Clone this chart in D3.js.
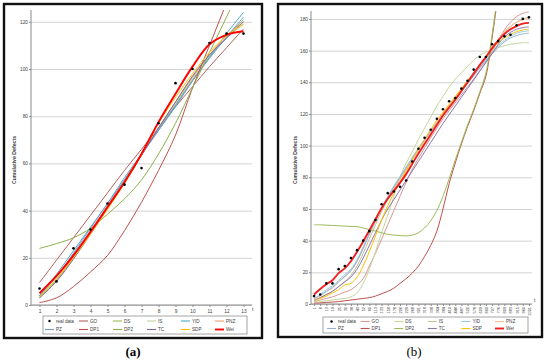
<!DOCTYPE html>
<html>
<head>
<meta charset="utf-8">
<script src="https://cdn.jsdelivr.net/npm/d3@7"></script>
<style>
  body { margin: 0; background: #fff; }
  svg { display: block; font-family: "Liberation Sans", Arial, sans-serif; }
  .tick text { fill: #404040; }
</style>
</head>
<body>
<svg id="chart" width="550" height="362"></svg>
<script>
// ---- panel (a) data ----
var tA = ["1","2","3","4","5","6","7","8","9","10","11","12","13"];
var realA = [7, 10, 24, 32, 43, 51, 58, 77, 94, 100, 111, 115, 115];
var goA   = [9.5, 19, 28.5, 38, 47.5, 57, 66, 75, 84, 92.5, 101, 109, 117];
var dsA   = [3, 10.5, 20, 31, 41.5, 52.5, 63.5, 74.5, 85, 95.5, 105, 113.5, 121];
var isA   = [4, 12, 21.5, 31.5, 42, 53, 64, 75, 86, 96, 105.5, 113, 119];
var yidA  = [4, 13, 23, 33, 43, 54, 64, 74, 84, 95, 105, 115, 124];
var pnzA  = [3.5, 11, 20.5, 31, 42, 53, 64, 75, 86, 96.5, 106, 114, 120];
var pzA   = [4, 12, 22, 32.5, 43, 53, 63.5, 74, 84.5, 95, 104.5, 113.5, 122];
var dp1A  = [1, 3, 7.8, 14, 21, 31.5, 43.5, 57, 72, 92, 110, 128, 146];
var dp2A  = [24, 26, 28.5, 32.5, 38.5, 45, 53, 64, 77, 92, 107, 122, 137];
var tcA   = [3, 10, 19.5, 30, 41, 52, 63.5, 75, 86, 97, 106, 113, 120];
var sdpA  = [3.5, 11, 20, 30, 40.5, 51.5, 63.5, 77, 88, 98, 107, 114, 119];
var weiA  = [5, 12.3, 21, 31, 41.5, 52, 64, 77.5, 89.5, 101, 110.5, 114.5, 116];
var yTicksA = [0, 20, 40, 60, 80, 100, 120];

// ---- panel (b) data ----
var tB = ["1","6","13","19","25","30","38","43","52","60","113","133","158","178","206","229","268","301",
          "318","338","364","384","410","448","487","520","578","609","660","707","776","809","883","915","960","1001"];
var realB = [5, 6, 13, 13, 22, 24, 29, 34, 40, 46, 53, 63, 70, 71, 74, 78, 90, 98,
             105, 110, 117, 123, 128, 130, 136, 141, 148, 156, 156, 164, 166, 169, 170, 176, 180, 181];
var goB  = [1.5, 2.5, 3.5, 4.5, 6, 7.5, 9, 12, 16, 24, 32, 41, 50, 59, 68, 77, 85, 92,
            98.5, 105, 111, 117, 122, 127, 132, 137, 142, 147.5, 153, 159.5, 166.5, 173, 178, 181.5, 183.5, 184.5];
var dsB  = [1, 1.5, 2, 2.5, 3, 3.5, 4.5, 7, 13, 22, 33, 45, 56, 68, 80, 89, 96, 104,
            111, 118, 125, 131, 137, 142, 146, 150, 154, 157, 159, 160.5, 162, 163, 164, 164.5, 165, 165];
var isB  = [2.5, 4, 6, 8, 11, 14, 18, 24, 32, 41, 50, 58.5, 66, 72.5, 79, 85, 91, 97,
            103, 109, 114.5, 120, 125, 130, 135, 140, 145, 150, 155, 160.5, 166, 171, 175, 178, 180, 181];
var yidB = [3.5, 6, 9, 11.5, 15, 18.5, 22, 28, 36, 45, 53, 61, 68, 74.5, 80.5, 86.5, 92.5, 98.5,
            104, 109.5, 114.5, 119.5, 124.5, 129.5, 134.5, 139.5, 144.5, 149.5, 154, 158.5, 163, 166.5, 169, 171, 172, 172.5];
var pnzB = [3, 5, 8, 10, 14, 17, 21, 27, 35, 44, 52, 60, 67, 73, 79, 85, 91.5, 97.5,
            103.5, 109.5, 115, 120.5, 125.5, 130.5, 135.5, 140.5, 145.5, 150.5, 155.5, 161, 167, 172, 175.5, 178, 179.5, 180];
var pzB  = [3, 5.5, 8, 10.5, 14, 17.5, 21, 27, 35, 44, 52.5, 60.5, 67.5, 74, 80, 86, 92, 98,
            103.5, 109, 114, 119, 124, 129, 134, 139, 144, 149, 153.5, 158, 162, 165.5, 168, 169.5, 170.5, 171];
var dp1B = [0.5, 0.7, 1, 1.2, 1.5, 2, 2.5, 3, 3.5, 4, 5, 6.5, 8, 10, 13, 16, 19.5, 24,
            30, 37, 46, 60, 76, 89, 101, 112, 122, 133, 144, 168, 196, 222, 246, 270, 294, 318];
var dp2B = [50, 50, 49.8, 49.6, 49.4, 49.2, 49, 48.8, 48, 47, 46, 45, 44, 43.5, 43.2, 43, 43.5, 45,
            48, 52.5, 59, 68, 79, 91, 102, 113, 123, 134, 146, 170, 198, 224, 248, 272, 296, 320];
var tcB  = [2, 4, 6, 8, 11, 14, 17, 22, 29, 37, 45, 53, 60, 66, 72, 78, 84, 90,
            96, 102, 108, 114, 119.5, 125, 130.5, 136, 141.5, 147, 152.5, 158, 164, 168.5, 171.5, 173.5, 174.5, 175];
var sdpB = [2, 3.5, 5, 7, 9, 12, 13, 17, 24, 33, 43, 53, 62, 70, 77, 84, 91, 98,
            104, 110, 116, 121, 126, 131, 136, 141, 146, 151, 156, 161, 165, 168, 170, 172, 173, 173.5];
var weiB = [6, 9.5, 12.5, 15, 19.5, 22.5, 27, 33, 39.5, 46.5, 53.5, 60.5, 66.5, 71.5, 76.5, 82, 88.5, 95,
            101, 107, 113, 119, 124, 129, 134.5, 140, 145.5, 151, 156, 161.5, 166.5, 170.5, 173.5, 175.5, 177, 177.5];
var yTicksB = [0, 20, 40, 60, 80, 100, 120, 140, 160, 180];

var seriesNames = ["GO", "DS", "IS", "YID", "PNZ", "PZ", "DP1", "DP2", "TC", "SDP", "Wei"];
var colorsA = ["#b5605e", "#9bbb59", "#c3d69b", "#4bacc6", "#f0a070", "#6f9bd0", "#c0504d", "#8fb04a", "#8064a2", "#ffc000", "#ff0000"];
var colorsB = ["#d99694", "#c3d69b", "#c4bd97", "#93cddd", "#fac090", "#95b3d7", "#c0504d", "#9bbb59", "#8b77ad", "#ffc000", "#f02020"];

var svg = d3.select("#chart");

function drawPanel(cfg) {
    var g = svg.append("g");

    // outer box
    g.append("rect")
        .attr("x", cfg.box[0]).attr("y", cfg.box[1])
        .attr("width", cfg.box[2]).attr("height", cfg.box[3])
        .attr("fill", "#fff").attr("stroke", "#111").attr("stroke-width", 2.4);

    var x = d3.scalePoint().domain(cfg.cats).range([cfg.left, cfg.right]).padding(0.5);
    var y = d3.scaleLinear().domain([0, cfg.ymax]).range([cfg.bottom, cfg.top]);

    // gridlines
    g.append("g")
        .attr("transform", "translate(" + cfg.left + ",0)")
        .call(d3.axisLeft(y).tickValues(cfg.yTicks).tickSize(-(cfg.right - cfg.left)).tickFormat(""))
        .call(function(s) { s.select(".domain").remove(); })
        .selectAll("line").attr("stroke", "#c8c8c8").attr("stroke-width", 0.8);

    // y axis
    var ya = g.append("g")
        .attr("transform", "translate(" + cfg.left + ",0)")
        .call(d3.axisLeft(y).tickValues(cfg.yTicks).tickSize(2).tickSizeOuter(0));
    ya.select(".domain").attr("stroke", "#8a8a8a").attr("d", "M0," + cfg.top + "V" + cfg.bottom);
    ya.selectAll("line").attr("stroke", "#8a8a8a");
    ya.selectAll("text").attr("font-size", 4.8).attr("x", -3);

    // x axis
    var xa = g.append("g")
        .attr("transform", "translate(0," + cfg.bottom + ")")
        .call(d3.axisBottom(x).tickSize(2).tickSizeOuter(0));
    xa.select(".domain").attr("stroke", "#8a8a8a").attr("d", "M" + cfg.left + ",0H" + cfg.right);
    xa.selectAll("line").attr("stroke", "#8a8a8a");
    if (cfg.rotate) {
        xa.selectAll("text")
            .attr("font-size", 3.9)
            .attr("text-anchor", "end")
            .attr("transform", "rotate(-90)")
            .attr("x", -3).attr("y", 0).attr("dy", "0.35em");
    } else {
        xa.selectAll("text").attr("font-size", 4.8).attr("y", 5);
    }

    g.append("text")
        .attr("x", cfg.tLabel[0]).attr("y", cfg.tLabel[1])
        .attr("font-size", 5).attr("fill", "#404040").text("t");

    // y axis title
    g.append("text")
        .attr("transform", "translate(" + cfg.yTitle[0] + "," + cfg.yTitle[1] + ") rotate(-90)")
        .attr("text-anchor", "middle")
        .attr("font-size", 5.2).attr("font-weight", "bold").attr("fill", "#404040")
        .text("Cumulative Defects");

    // clip
    var clipId = "clip" + cfg.id;
    svg.append("clipPath").attr("id", clipId)
        .append("rect")
        .attr("x", cfg.left).attr("y", cfg.top)
        .attr("width", cfg.right - cfg.left).attr("height", cfg.bottom - cfg.top);

    var line = d3.line()
        .x(function(d, i) { return x(cfg.cats[i]); })
        .y(function(d) { return y(d); })
        .curve(d3.curveCatmullRom.alpha(0.5));

    var lines = g.append("g").attr("clip-path", "url(#" + clipId + ")");
    cfg.series.forEach(function(s, k) {
        lines.append("path")
            .attr("d", line(s))
            .attr("fill", "none")
            .attr("stroke", cfg.colors[k])
            .attr("stroke-width", seriesNames[k] == "Wei" ? 1.9 : 1)
            .attr("stroke-linejoin", "round");
    });

    // real data
    g.append("g").selectAll("circle")
        .data(cfg.real)
        .enter().append("circle")
        .attr("cx", function(d, i) { return x(cfg.cats[i]); })
        .attr("cy", function(d) { return y(d); })
        .attr("r", 1.3)
        .attr("fill", "#000");

    // legend
    var L = cfg.legend;
    g.append("rect")
        .attr("x", L.x).attr("y", L.y).attr("width", L.w).attr("height", L.h)
        .attr("fill", "#fff").attr("stroke", "#7f7f7f").attr("stroke-width", 0.7);

    var items = ["real data"].concat(seriesNames);
    items.forEach(function(name, i) {
        var col = i % 6, row = Math.floor(i / 6);
        var sx = L.x + L.pad + col * L.step;
        var sy = L.y + L.rowY[row];
        if (i == 0) {
            g.append("circle").attr("cx", sx + L.sym / 2).attr("cy", sy).attr("r", 1.2).attr("fill", "#000");
        } else {
            g.append("line")
                .attr("x1", sx).attr("x2", sx + L.sym)
                .attr("y1", sy).attr("y2", sy)
                .attr("stroke", cfg.colors[i - 1])
                .attr("stroke-width", name == "Wei" ? 1.9 : 1.1);
        }
        g.append("text")
            .attr("x", sx + L.sym + 2).attr("y", sy)
            .attr("dy", "0.35em")
            .attr("font-size", 4.6).attr("fill", "#404040")
            .text(name);
    });

    // panel caption
    g.append("text")
        .attr("x", cfg.caption[0]).attr("y", cfg.caption[1])
        .attr("text-anchor", "middle")
        .attr("font-family", "'Liberation Serif', 'Times New Roman', serif")
        .attr("font-size", 13)
        .attr("font-weight", cfg.captionBold ? "bold" : "normal")
        .style("fill", "#000")
        .text(cfg.captionText);
}

drawPanel({
    id: "a",
    box: [4, 4, 258, 334],
    cats: tA, ymax: 125, yTicks: yTicksA,
    left: 31, right: 252, top: 10, bottom: 305,
    real: realA,
    series: [goA, dsA, isA, yidA, pnzA, pzA, dp1A, dp2A, tcA, sdpA, weiA],
    colors: colorsA,
    tLabel: [252, 311],
    yTitle: [16, 160],
    legend: { x: 43, y: 316, w: 204, h: 18, pad: 2, step: 34, sym: 9, rowY: [5, 13.5] },
    caption: [133, 356], captionText: "(a)", captionBold: true
});

drawPanel({
    id: "b",
    box: [278, 4, 264, 333],
    cats: tB, ymax: 185, yTicks: yTicksB,
    left: 311, right: 532, top: 11, bottom: 304,
    rotate: true,
    real: realB,
    series: [goB, dsB, isB, yidB, pnzB, pzB, dp1B, dp2B, tcB, sdpB, weiB],
    colors: colorsB,
    tLabel: [534, 302],
    yTitle: [297, 160],
    legend: { x: 323, y: 317, w: 205, h: 16, pad: 4, step: 33.6, sym: 9, rowY: [4.5, 11.5] },
    caption: [414, 356], captionText: "(b)", captionBold: false
});
</script>
</body>
</html>
